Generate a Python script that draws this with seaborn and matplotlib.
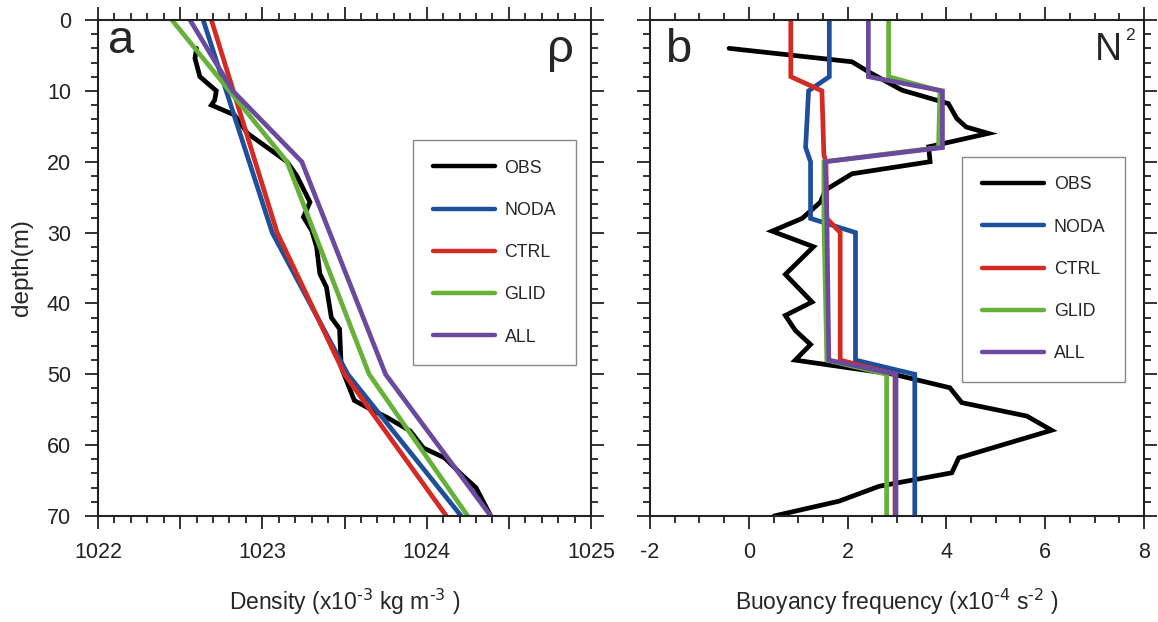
import numpy as np
import pandas as pd
import matplotlib
matplotlib.use("Agg")
import matplotlib.pyplot as plt
from matplotlib.ticker import MultipleLocator, FuncFormatter
import seaborn as sns

sns.set_style("ticks")
plt.rcParams['font.family'] = ['Liberation Sans', 'DejaVu Sans']
plt.rcParams['mathtext.default'] = 'regular'
plt.rcParams['axes.unicode_minus'] = False

# ---------------- data ----------------
series = ["OBS", "NODA", "CTRL", "GLID", "ALL"]
colors = ["#000000", "#1f4f9a", "#d42a24", "#66b13a", "#6b4a9e"]

# Panel a: density (kg m-3) vs depth (m)
obs_a_depth = [4, 5.4, 8, 10, 11.3, 12, 13.4, 16, 20, 22, 25.7, 27.8, 29.7, 32, 35.8,
               37.7, 42, 43.6, 49, 53.7, 54.7, 56.1, 58, 60.4, 61.8, 64.1, 66, 70]
obs_a_rho = [1022.60, 1022.59, 1022.62, 1022.72, 1022.71, 1022.69, 1022.83, 1022.91,
             1023.15, 1023.21, 1023.29, 1023.25, 1023.30, 1023.33, 1023.35, 1023.39,
             1023.42, 1023.47, 1023.48, 1023.56, 1023.64, 1023.76, 1023.90, 1023.98,
             1024.11, 1024.21, 1024.30, 1024.39]
noda_a_depth = [0, 30, 50, 70]
noda_a_rho = [1022.64, 1023.06, 1023.52, 1024.21]
ctrl_a_depth = [0, 30, 50, 70]
ctrl_a_rho = [1022.69, 1023.09, 1023.50, 1024.12]
glid_a_depth = [0, 20, 50, 70]
glid_a_rho = [1022.45, 1023.15, 1023.65, 1024.25]
all_a_depth = [0, 10, 20, 50, 70]
all_a_rho = [1022.56, 1022.82, 1023.24, 1023.75, 1024.39]

# Panel b: buoyancy frequency (x1e-4 s-2) vs depth (m)
obs_b_depth = [4, 5.9, 7.3, 9.9, 11.8, 13.9, 15.1, 16, 17.9, 20, 21.7, 24, 25.7, 28,
               29.8, 32, 35.9, 39.8, 41.7, 43.8, 45.8, 48, 50, 51.9, 54, 55.9, 57.9,
               61.8, 63.9, 65.8, 67.9, 70]
obs_b_n2 = [-0.40, 2.09, 2.42, 3.10, 4.04, 4.21, 4.40, 4.85, 3.64, 3.67, 2.09, 1.55,
            1.45, 1.08, 0.47, 1.31, 0.74, 1.28, 0.74, 0.94, 1.25, 0.94, 2.93, 4.07,
            4.31, 5.63, 6.13, 4.25, 4.11, 2.64, 1.83, 0.51]
noda_b_depth = [0, 8, 10, 18, 20, 28, 30, 48, 50, 70]
noda_b_n2 = [1.63, 1.63, 1.21, 1.15, 1.25, 1.25, 2.16, 2.16, 3.36, 3.36]
ctrl_b_depth = [0, 8, 10, 19, 20, 28, 30, 48, 50, 70]
ctrl_b_n2 = [0.85, 0.85, 1.48, 1.52, 1.56, 1.58, 1.85, 1.85, 2.96, 2.96]
glid_b_depth = [0, 8, 10, 18, 20, 28, 48, 50, 70]
glid_b_n2 = [2.83, 2.83, 3.87, 3.84, 1.52, 1.52, 1.58, 2.79, 2.79]
all_b_depth = [0, 8, 10, 18, 20, 28, 48, 50, 70]
all_b_n2 = [2.42, 2.42, 3.92, 3.92, 1.55, 1.58, 1.62, 2.98, 2.98]

panel_a = [(obs_a_rho, obs_a_depth), (noda_a_rho, noda_a_depth), (ctrl_a_rho, ctrl_a_depth),
           (glid_a_rho, glid_a_depth), (all_a_rho, all_a_depth)]
panel_b = [(obs_b_n2, obs_b_depth), (noda_b_n2, noda_b_depth), (ctrl_b_n2, ctrl_b_depth),
           (glid_b_n2, glid_b_depth), (all_b_n2, all_b_depth)]

# ---------------- figure ----------------
W, H = 1158, 622
fig = plt.figure(figsize=(W / 100, H / 100), dpi=100)
ax1 = fig.add_axes([98 / W, 1 - 516 / H, 493 / W, 496 / H])
ax2 = fig.add_axes([650 / W, 1 - 516 / H, 494 / W, 496 / H])

for ax, data in ((ax1, panel_a), (ax2, panel_b)):
    for name, col, (xv, dv) in zip(series, colors, data):
        df = pd.DataFrame({"x": xv, "depth": dv})
        sns.lineplot(data=df, x="x", y="depth", sort=False, estimator=None,
                     color=col, lw=3.4, label=name, ax=ax, solid_joinstyle='miter')

def int_fmt(v, p):
    return f"{v:.0f}" if abs(v - round(v)) < 1e-6 else ""

ax1.set_xlim(1022, 1025)
ax1.xaxis.set_major_locator(MultipleLocator(0.5))
ax1.xaxis.set_minor_locator(MultipleLocator(0.1))
ax1.xaxis.set_major_formatter(FuncFormatter(int_fmt))
ax2.set_xlim(-2, 8)
ax2.xaxis.set_major_locator(MultipleLocator(2))
ax2.xaxis.set_minor_locator(MultipleLocator(0.5))
ax2.xaxis.set_major_formatter(FuncFormatter(int_fmt))

for ax in (ax1, ax2):
    ax.set_ylim(70, 0)
    ax.yaxis.set_major_locator(MultipleLocator(10))
    ax.yaxis.set_minor_locator(MultipleLocator(2))
    ax.tick_params(which='both', direction='out', top=True, right=True, bottom=True,
                   left=True, width=1.3, colors='#222222')
    ax.tick_params(which='major', length=9.5, labelsize=15.5, pad=9)
    ax.tick_params(which='minor', length=5)
    ax.tick_params(axis='y', pad=10)
    for s in ax.spines.values():
        s.set_linewidth(1.5)
        s.set_color('#222222')
    ax.set_ylabel("")
    ax.set_xlabel("")

ax2.tick_params(axis='y', labelleft=False)

ax1.set_ylabel("depth(m)", fontsize=17.5)
ax1.yaxis.set_label_coords(-0.132, 0.5)
ax1.set_xlabel(r"Density (x10$^{\text{-3}}$ kg m$^{\text{-3}}$ )", fontsize=16.5, va='center')
ax1.xaxis.set_label_coords(0.5, -0.173)
ax2.set_xlabel(r"Buoyancy frequency (x10$^{\text{-4}}$ s$^{\text{-2}}$ )", fontsize=16.5, va='center')
ax2.xaxis.set_label_coords(0.5, -0.173)

# panel labels
ax1.text(0.02, 0.933, "a", transform=ax1.transAxes, fontsize=34, ha='left', va='baseline')
ax1.text(0.939, 0.915, "ρ", transform=ax1.transAxes, fontsize=34, ha='center', va='baseline')
ax2.text(0.030, 0.915, "b", transform=ax2.transAxes, fontsize=34, ha='left', va='baseline')
ax2.text(0.901, 0.919, "N", transform=ax2.transAxes, fontsize=27, ha='left', va='baseline')
ax2.text(0.9615, 0.96, "2", transform=ax2.transAxes, fontsize=12.5, ha='left', va='baseline')

leg_kw = dict(loc='upper left', borderaxespad=0, frameon=True, fancybox=False,
              fontsize=12.8, handlelength=3.5, handletextpad=0.55, borderpad=1.1,
              labelspacing=1.42, edgecolor='#888888', framealpha=1)
leg1 = ax1.legend(bbox_to_anchor=(0.639, 0.758), **leg_kw)
leg2 = ax2.legend(bbox_to_anchor=(0.632, 0.724), **leg_kw)
for leg in (leg1, leg2):
    leg.get_frame().set_linewidth(1.0)
    for h in leg.get_lines():
        h.set_linewidth(3.2)
        h.set_solid_capstyle('round')

fig.savefig("out.png", dpi=100)
